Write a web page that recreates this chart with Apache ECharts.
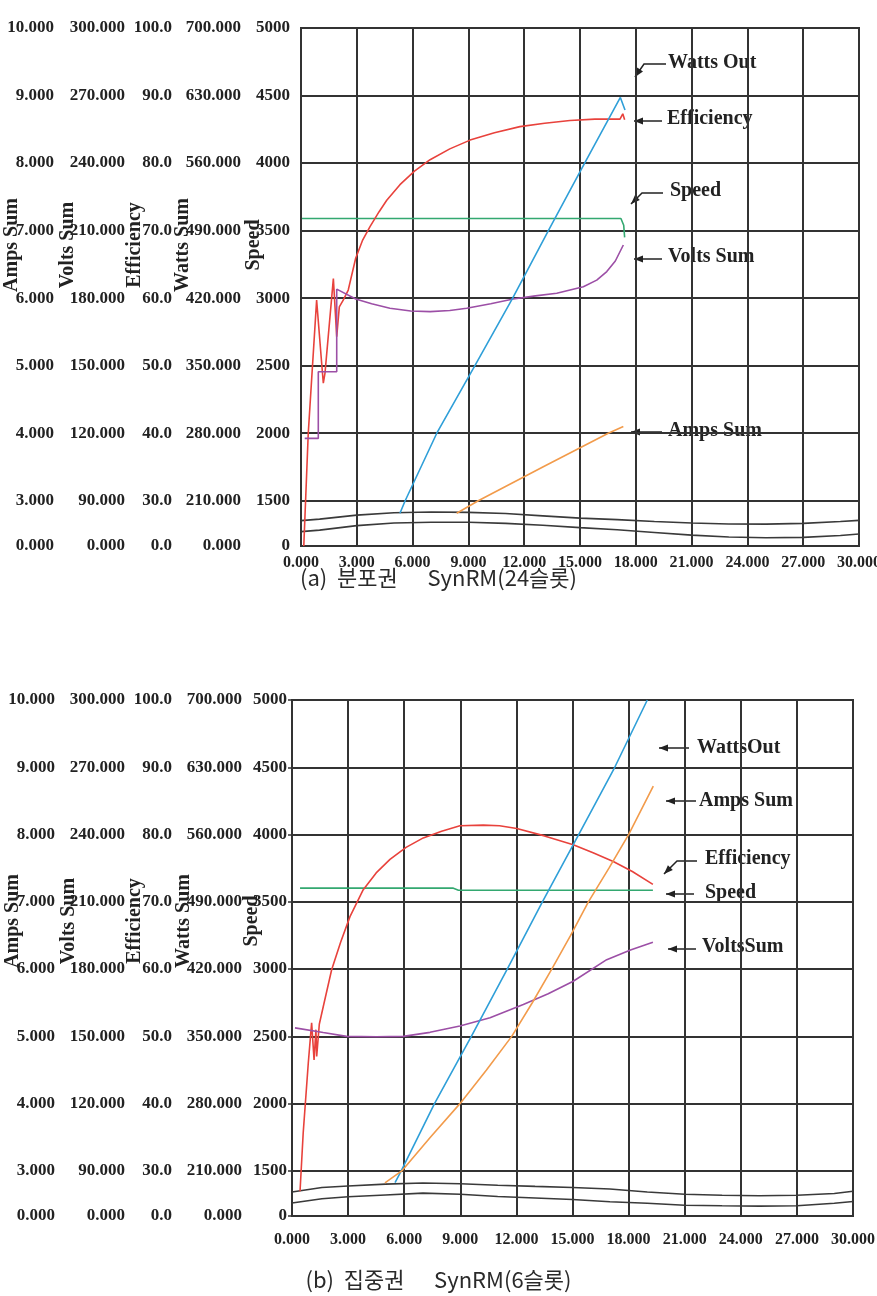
<!DOCTYPE html>
<html>
<head>
<meta charset="utf-8">
<script src="https://cdn.jsdelivr.net/npm/echarts@6/dist/echarts.min.js"></script>
<style>
html, body { margin: 0; padding: 0; background: #fff; }
#chart { width: 877px; height: 1296px; }
</style>
</head>
<body>
<div id="chart"></div>
<script>
// tick labels of the five left axes (the first band 0..3 is drawn compressed)
var ampsTicks = [0, 3, 4, 5, 6, 7, 8, 9, 10];
var voltsTicks = [0, 90, 120, 150, 180, 210, 240, 270, 300];
var effTicks = [0, 30, 40, 50, 60, 70, 80, 90, 100];
var wattsTicks = [0, 210, 280, 350, 420, 490, 560, 630, 700];
var speedTicks = [0, 1500, 2000, 2500, 3000, 3500, 4000, 4500, 5000];
var xMax = 30;

// (a) 24 slots : [x, value]
var aSpeed = [[0.05, 3590], [17.2, 3590], [17.35, 3540], [17.4, 3450]];
var aEff = [[0.15, 0], [0.39, 40], [0.84, 59.7], [1.11, 50.4], [1.2, 47.4], [1.29, 48.9], [1.74, 62.9],
  [1.92, 54.3], [2.06, 58.7], [2.27, 59.7], [2.54, 61.2], [2.94, 65.9], [3.3, 68.5], [3.71, 70.6],
  [4.2, 72.8], [4.61, 74.5], [5.32, 76.8], [6.1, 78.8], [6.94, 80.5], [8.0, 82.1], [9.09, 83.4],
  [10.4, 84.5], [11.77, 85.4], [13.1, 85.9], [14.46, 86.3], [15.8, 86.5], [17.15, 86.5],
  [17.3, 87.3], [17.4, 86.4]];
var aVolts = [[0.2, 117.7], [0.93, 117.7], [0.93, 147.3], [1.92, 147.3], [1.92, 184], [2.94, 179.6],
  [3.8, 177.5], [4.78, 175.5], [5.9, 174.3], [6.94, 174], [8.0, 174.5], [8.91, 175.5], [10.2, 177.5],
  [11.41, 179.6], [12.6, 181], [13.75, 182.2], [15.18, 185.1], [15.9, 188], [16.44, 191.8],
  [16.9, 196.5], [17.33, 203.6]];
var aWatts = [[5.32, 152], [5.6, 210], [7.3, 280], [9.35, 350], [11.38, 420], [13.3, 490],
  [15.25, 560], [17.17, 628], [17.42, 615]];
var aAmps = [[8.37, 2.17], [9.53, 3.0], [13.0, 3.5], [16.52, 4.0], [17.33, 4.1]];
var aLow1 = [[0, 1.68], [1, 1.78], [3, 2.05], [5, 2.2], [7, 2.25], [9, 2.23], [11, 2.15], [13, 2.0],
  [15, 1.85], [17, 1.75], [19, 1.62], [21, 1.52], [23, 1.46], [25, 1.45], [27, 1.5], [29, 1.62], [30, 1.7]];
var aLow2 = [[0, 0.95], [1, 1.05], [3, 1.35], [5, 1.52], [7, 1.57], [9, 1.57], [11, 1.5], [13, 1.38],
  [15, 1.22], [17, 1.08], [19, 0.9], [21, 0.72], [23, 0.6], [25, 0.55], [27, 0.57], [29, 0.7], [30, 0.8]];

// (b) 6 slots
var bSpeed = [[0.43, 3602], [8.6, 3602], [8.9, 3586], [19.3, 3586]];
var bEff = [[0.43, 16.5], [0.6, 35.7], [0.87, 46], [1.05, 52], [1.18, 46.5], [1.28, 51], [1.32, 47],
  [1.46, 51.8], [1.67, 54.4], [2.12, 59.9], [2.6, 64], [3.1, 67.8], [3.81, 71.8], [4.5, 74.3],
  [5.24, 76.3], [6.1, 78.1], [7.02, 79.5], [8.0, 80.5], [8.98, 81.3], [10.23, 81.4], [11.1, 81.3],
  [12.02, 80.9], [13.5, 79.8], [15.04, 78.5], [16.1, 77.3], [17.18, 76.0], [18.2, 74.5], [19.3, 72.6]];
var bVolts = [[0.16, 153.8], [1.67, 151.7], [2.92, 150], [4.5, 149.8], [5.95, 150], [7.38, 151.8],
  [8.98, 154.6], [10.59, 158.3], [12.37, 164.2], [13.7, 169], [15.04, 174.6], [16.83, 184.2],
  [18.1, 188.5], [19.3, 192]];
var bWatts = [[5.51, 155], [5.84, 210], [7.62, 280], [9.59, 350], [11.51, 420], [13.39, 490],
  [15.33, 560], [17.26, 630], [19.0, 700]];
var bAmps = [[4.97, 2.21], [5.87, 3.0], [7.4, 3.5], [8.98, 4.0], [10.4, 4.5], [11.75, 5.0], [12.85, 5.5],
  [13.89, 6.0], [14.9, 6.5], [15.85, 7.0], [16.95, 7.5], [18.0, 8.0], [19.32, 8.72]];
var bLow1 = [[0, 1.6], [1.6, 1.9], [3, 2.0], [5, 2.12], [7, 2.2], [9, 2.15], [11, 2.05], [13, 1.97],
  [15, 1.9], [17, 1.8], [19, 1.6], [21, 1.45], [23, 1.38], [25, 1.35], [27, 1.38], [29, 1.5], [30, 1.65]];
var bLow2 = [[0, 0.86], [1.6, 1.15], [3, 1.28], [5, 1.4], [7, 1.52], [9, 1.45], [11, 1.3], [13, 1.2],
  [15, 1.1], [17, 0.95], [19, 0.85], [21, 0.72], [23, 0.68], [25, 0.66], [27, 0.68], [29, 0.85], [30, 0.97]];

// display scale: band 0..tick[1] is compressed to BAND units, then one unit per tick
var BAND = 0.67;
var DISP = ampsTicks.map(function (t, i) { return i === 0 ? 0 : BAND + i - 1; });
var DMAX = DISP[DISP.length - 1];
function toDisp(v, ticks) {
  if (v <= ticks[1]) return v / ticks[1] * BAND;
  return BAND + (v - ticks[1]) / (ticks[2] - ticks[1]);
}
function mapData(data, ticks) {
  return data.map(function (p) { return [p[0], toDisp(p[1], ticks)]; });
}

var SERIF = '"Liberation Serif", "Times New Roman", serif';
var INK = '#222';
var GRIDC = '#333';

function yAxis(gridIndex, ticks, dec, name, offset, nameGap, margin, main, shiftUp, tick) {
  return {
    type: 'value', gridIndex: gridIndex, min: 0, max: DMAX, position: 'left', offset: offset,
    name: name, nameLocation: 'middle', nameRotate: 90, nameGap: nameGap, nameMoveOverlap: false,
    nameTextStyle: { fontFamily: SERIF, fontWeight: 'bold', fontSize: 20, color: INK, padding: [0, 0, 0, shiftUp * 2] },
    axisLine: { show: main, lineStyle: { color: GRIDC, width: 2 } },
    axisTick: { show: tick, length: 4, customValues: DISP, lineStyle: { color: GRIDC, width: 1.5 } },
    axisLabel: {
      customValues: DISP, margin: margin, fontFamily: SERIF, fontWeight: 'bold', fontSize: 17, color: INK,
      formatter: function (v) {
        for (var i = 0; i < DISP.length; i++) if (Math.abs(DISP[i] - v) < 1e-6) return ticks[i].toFixed(dec);
        return '';
      }
    },
    splitLine: { show: main, lineStyle: { color: GRIDC, width: 2 } }
  };
}

function xAxis(gridIndex, margin) {
  return {
    type: 'value', gridIndex: gridIndex, min: 0, max: xMax, interval: 3,
    axisLine: { show: true, lineStyle: { color: GRIDC, width: 2 } },
    axisTick: { show: false },
    axisLabel: { margin: margin, fontFamily: SERIF, fontWeight: 'bold', fontSize: 16, color: INK,
      formatter: function (v) { return v.toFixed(3); } },
    splitLine: { show: true, lineStyle: { color: GRIDC, width: 2 } }
  };
}

// axis order inside each grid: speed, watts, efficiency, volts, amps
var yAxes = [
  yAxis(0, speedTicks, 0, 'Speed', 0, 37, 11, true, 42, false),
  yAxis(0, wattsTicks, 3, 'Watts Sum', 52, 56, 8, false, 42, false),
  yAxis(0, effTicks, 1, 'Efficiency', 121, 35, 8, false, 42, false),
  yAxis(0, voltsTicks, 3, 'Volts Sum', 168, 55, 8, false, 42, false),
  yAxis(0, ampsTicks, 3, 'Amps Sum', 239, 40, 8, false, 42, false),
  yAxis(1, speedTicks, 0, 'Speed', 0, 30, 5, true, 37, true),
  yAxis(1, wattsTicks, 3, 'Watts Sum', 42, 56, 8, false, 37, false),
  yAxis(1, effTicks, 1, 'Efficiency', 112, 35, 8, false, 37, false),
  yAxis(1, voltsTicks, 3, 'Volts Sum', 159, 54, 8, false, 37, false),
  yAxis(1, ampsTicks, 3, 'Amps Sum', 229, 40, 8, false, 37, false)
];

function line(name, data, ticks, gi, yi, color) {
  return {
    type: 'line', name: name, xAxisIndex: gi, yAxisIndex: gi * 5 + yi,
    data: mapData(data, ticks), showSymbol: false, symbol: 'none', silent: true,
    lineStyle: { color: color, width: 1.6 }, itemStyle: { color: color }, z: 3
  };
}

var RED = '#e8423c', GREEN = '#33a870', BLUE = '#2f9fd8', ORANGE = '#f29b4b', PURPLE = '#9c4fa6', BLACK = '#3a3a3a';

var series = [
  line('Low 1', aLow1, ampsTicks, 0, 4, BLACK),
  line('Low 2', aLow2, ampsTicks, 0, 4, BLACK),
  line('Speed', aSpeed, speedTicks, 0, 0, GREEN),
  line('Efficiency', aEff, effTicks, 0, 2, RED),
  line('Volts Sum', aVolts, voltsTicks, 0, 3, PURPLE),
  line('Watts Out', aWatts, wattsTicks, 0, 1, BLUE),
  line('Amps Sum', aAmps, ampsTicks, 0, 4, ORANGE),
  line('Low 1', bLow1, ampsTicks, 1, 4, BLACK),
  line('Low 2', bLow2, ampsTicks, 1, 4, BLACK),
  line('Speed', bSpeed, speedTicks, 1, 0, GREEN),
  line('Efficiency', bEff, effTicks, 1, 2, RED),
  line('Volts Sum', bVolts, voltsTicks, 1, 3, PURPLE),
  line('Watts Out', bWatts, wattsTicks, 1, 1, BLUE),
  line('Amps Sum', bAmps, ampsTicks, 1, 4, ORANGE)
];

// callouts: label text, arrow path (tail .. head), text anchor
var notes = [
  { text: 'Watts Out', path: [[666, 64], [644, 64], [635, 77]], at: [668, 63] },
  { text: 'Efficiency', path: [[662, 121], [634, 121]], at: [667, 119] },
  { text: 'Speed', path: [[663, 193], [642, 193], [631, 204]], at: [670, 191] },
  { text: 'Volts Sum', path: [[662, 259], [634, 259]], at: [668, 257] },
  { text: 'Amps Sum', path: [[662, 432], [631, 432]], at: [668, 431] },
  { text: 'WattsOut', path: [[689, 748], [659, 748]], at: [697, 748] },
  { text: 'Amps Sum', path: [[696, 801], [666, 801]], at: [699, 801] },
  { text: 'Efficiency', path: [[697, 861], [677, 861], [664, 874]], at: [705, 859] },
  { text: 'Speed', path: [[694, 894], [666, 894]], at: [705, 893] },
  { text: 'VoltsSum', path: [[696, 949], [668, 949]], at: [702, 947] }
];
var graphics = [];
notes.forEach(function (n) {
  var p = n.path, p1 = p[p.length - 2], p2 = p[p.length - 1];
  var ang = Math.atan2(p2[1] - p1[1], p2[0] - p1[0]);
  var L = 9, W = 3.5;
  var bx = p2[0] - L * Math.cos(ang), by = p2[1] - L * Math.sin(ang);
  graphics.push({ type: 'polyline', shape: { points: p }, style: { stroke: INK, lineWidth: 1.5, fill: null } });
  graphics.push({ type: 'polygon', shape: { points: [p2,
    [bx - W * Math.sin(ang), by + W * Math.cos(ang)],
    [bx + W * Math.sin(ang), by - W * Math.cos(ang)]] }, style: { fill: INK } });
  graphics.push({ type: 'text', x: n.at[0], y: n.at[1], style: { text: n.text, fontFamily: SERIF,
    fontWeight: 'bold', fontSize: 20, fill: INK, verticalAlign: 'middle', align: 'left' } });
});

var captionStyle = { fontFamily: '"Noto Sans CJK KR", sans-serif', fontWeight: 'normal', fontSize: 22, color: '#2a2a2a' };

var chart = echarts.init(document.getElementById('chart'), null, { renderer: 'canvas' });
chart.setOption({
  backgroundColor: '#fff',
  animation: false,
  title: [
    { text: '(a)  분포권      SynRM(24슬롯)', left: 'center', top: 562, textStyle: captionStyle },
    { text: '(b)  집중권      SynRM(6슬롯)', left: 'center', top: 1264, textStyle: captionStyle }
  ],
  grid: [
    { left: 301, top: 28, width: 558, height: 518, show: true, borderColor: GRIDC, borderWidth: 2, outerBoundsMode: 'none' },
    { left: 292, top: 700, width: 561, height: 516, show: true, borderColor: GRIDC, borderWidth: 2, outerBoundsMode: 'none' }
  ],
  xAxis: [xAxis(0, 9), xAxis(1, 16)],
  yAxis: yAxes,
  series: series,
  graphic: graphics
});
</script>
</body>
</html>
